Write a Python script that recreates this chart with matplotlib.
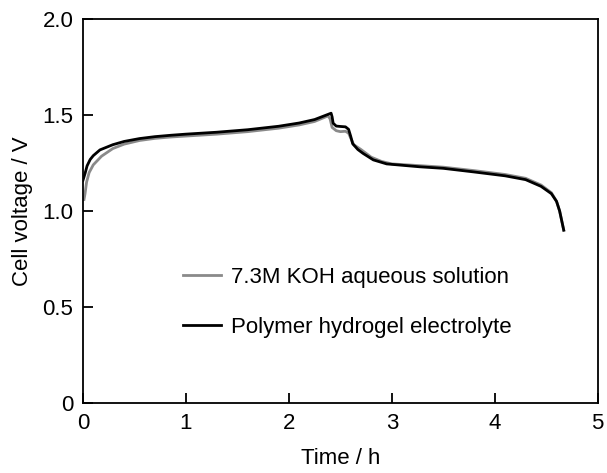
import numpy as np
import matplotlib.pyplot as plt

plt.rcParams['font.family'] = ['Liberation Sans', 'DejaVu Sans']

# Polymer hydrogel electrolyte (black)
t_gel = [0, 0.02, 0.04, 0.07, 0.1, 0.165, 0.29, 0.4, 0.55, 0.7, 0.85, 1.0, 1.3,
         1.6, 1.9, 2.1, 2.25, 2.41, 2.42, 2.43, 2.46, 2.5, 2.55, 2.58, 2.6,
         2.62, 2.67, 2.72, 2.82, 2.95, 3.27, 3.5, 3.8, 4.1, 4.3, 4.45, 4.55,
         4.6, 4.63, 4.65, 4.67]
v_gel = [1.16, 1.195, 1.235, 1.268, 1.288, 1.318, 1.345, 1.362, 1.377, 1.387,
         1.394, 1.40, 1.41, 1.423, 1.441, 1.458, 1.476, 1.509, 1.49, 1.457,
         1.442, 1.44, 1.438, 1.425, 1.39, 1.35, 1.32, 1.30, 1.266, 1.245, 1.23,
         1.222, 1.203, 1.183, 1.163, 1.128, 1.09, 1.05, 1.0, 0.95, 0.90]

# 7.3M KOH aqueous solution (gray)
t_koh = [0.01, 0.02, 0.035, 0.06, 0.1, 0.18, 0.29, 0.4, 0.55, 0.7, 0.85, 1.0,
         1.3, 1.6, 1.9, 2.1, 2.25, 2.38, 2.4, 2.42, 2.46, 2.5, 2.55, 2.58, 2.6,
         2.63, 2.7, 2.8, 2.9, 3.0, 3.3, 3.5, 3.8, 4.1, 4.3, 4.45, 4.55, 4.6,
         4.63, 4.65, 4.67]
v_koh = [1.06, 1.09, 1.15, 1.2, 1.24, 1.285, 1.325, 1.348, 1.367, 1.378,
         1.385, 1.39, 1.4, 1.413, 1.431, 1.448, 1.466, 1.495, 1.48, 1.435,
         1.418, 1.413, 1.415, 1.405, 1.38, 1.345, 1.32, 1.28, 1.258, 1.245,
         1.235, 1.228, 1.21, 1.19, 1.17, 1.135, 1.095, 1.05, 1.0, 0.95, 0.90]

x_ticks = [0, 1, 2, 3, 4, 5]
y_ticks = [0, 0.5, 1.0, 1.5, 2.0]
y_ticklabels = ['0', '0.5', '1.0', '1.5', '2.0']

fs = 16

fig = plt.figure(figsize=(6.07, 4.73), dpi=100)
ax = fig.add_axes([0.1367, 0.148, 0.848, 0.812])

ax.plot(t_koh, v_koh, color='#8a8a8a', lw=2.0, label='7.3M KOH aqueous solution')
ax.plot(t_gel, v_gel, color='black', lw=2.0, label='Polymer hydrogel electrolyte')

ax.set_xlim(0, 5)
ax.set_ylim(0, 2.0)
ax.set_xticks(x_ticks)
ax.set_yticks(y_ticks)
ax.set_yticklabels(y_ticklabels)
ax.tick_params(direction='in', length=7.5, width=1.3, labelsize=fs)
ax.tick_params(axis='x', pad=7)
ax.tick_params(axis='y', pad=7)
for s in ax.spines.values():
    s.set_linewidth(1.3)

ax.set_xlabel('Time / h', fontsize=fs, labelpad=10)
ax.set_ylabel('Cell voltage / V', fontsize=fs, labelpad=7)

ax.legend(loc='center left', bbox_to_anchor=(0.194, 0.262), frameon=False,
          fontsize=fs, handlelength=1.7, handletextpad=0.45, labelspacing=1.3,
          borderpad=0, borderaxespad=0)

fig.savefig('out.png', dpi=100)
